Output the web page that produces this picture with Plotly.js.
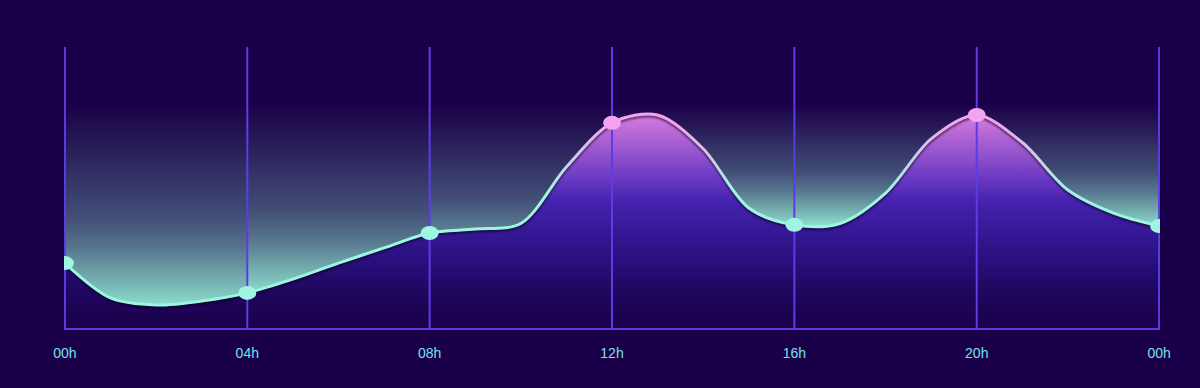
<!DOCTYPE html>
<html>
<head>
<meta charset="utf-8">
<script src="https://cdn.plot.ly/plotly-3.0.1.min.js"></script>
<style>
  html, body { margin: 0; padding: 0; background: #1a0048; }
  #chart { width: 1200px; height: 388px; }
</style>
</head>
<body>
<div id="chart"></div>
<script>
// ---- data ----
const hours = [0, 1, 2, 3, 4, 5, 6, 7, 8, 9, 10, 11, 12, 13, 14, 15, 16, 17, 18, 19, 20, 21, 22, 23, 24];
const values = [23.1, 10.7, 8.2, 9.6, 12.5, 17.4, 23.1, 28.5, 33.8, 35.2, 37.2, 57.3, 73.0, 75.8, 63.8, 42.7, 36.7, 37.2, 48.0, 67.3, 75.8, 66.0, 49.1, 40.9, 36.3];
const tickVals = [0, 4, 8, 12, 16, 20, 24];
const tickText = ['00h', '04h', '08h', '12h', '16h', '20h', '00h'];
const markerHours = [0, 4, 8, 12, 16, 20, 24];
const yMax = 100;

// ---- styling ----
const BG = '#1a0048';
const GRID = '#5b3de6';
const CYAN = [158, 245, 225];
const PINK = [245, 163, 239];
const LOW_COLOR_AT = 48, HIGH_COLOR_AT = 73;
const SMOOTH = 0.9;
const GLOW_TOP = 80;
const glowFloor = [8.2, 12.5, 20, 36.7, 36.7, 36.3]; // where each glow band is brightest (style)

function colorFor(v) {
  let t = (v - LOW_COLOR_AT) / (HIGH_COLOR_AT - LOW_COLOR_AT);
  t = Math.max(0, Math.min(1, t));
  const c = CYAN.map((a, i) => Math.round(a + (PINK[i] - a) * t));
  return 'rgb(' + c.join(',') + ')';
}

const glowScale = [
  [0, 'rgba(150,240,215,0.92)'],
  [0.074, 'rgba(150,240,215,0.8)'],
  [0.275, 'rgba(150,240,215,0.5)'],
  [0.44, 'rgba(150,240,215,0.32)'],
  [0.62, 'rgba(150,240,215,0.22)'],
  [0.76, 'rgba(150,240,215,0.13)'],
  [0.91, 'rgba(150,240,215,0.05)'],
  [1, 'rgba(150,240,215,0)']
];

// teal glow bands between neighbouring markers; the area under the line covers them
const glowTraces = markerHours.slice(0, -1).map((h0, i) => ({
  x: [h0, markerHours[i + 1]], y: [yMax, yMax], type: 'scatter', mode: 'lines',
  line: { width: 0 }, fill: 'tozeroy',
  fillgradient: { type: 'vertical', start: glowFloor[i], stop: GLOW_TOP, colorscale: glowScale },
  hoverinfo: 'skip', showlegend: false
}));

const underFill = {
  x: hours, y: values, type: 'scatter', mode: 'lines',
  line: { width: 0, shape: 'spline', smoothing: SMOOTH },
  fill: 'tozeroy',
  fillgradient: {
    type: 'vertical', start: 0, stop: 78,
    colorscale: [
      [0, 'rgb(26,0,72)'],
      [0.17, 'rgb(31,7,96)'],
      [0.36, 'rgb(45,19,135)'],
      [0.58, 'rgb(69,34,176)'],
      [0.68, 'rgb(105,57,195)'],
      [0.9, 'rgb(187,106,214)'],
      [1, 'rgb(226,133,233)']
    ]
  },
  hoverinfo: 'skip', showlegend: false
};

const mainLine = {
  x: hours, y: values, type: 'scatter', mode: 'lines',
  line: { width: 3, shape: 'spline', smoothing: SMOOTH, color: 'rgb(158,245,225)' },
  hoverinfo: 'x+y', showlegend: false
};

const gridShapes = tickVals.map(h => ({
  type: 'line', xref: 'x', yref: 'paper', x0: h, x1: h, y0: 0, y1: 1,
  line: { color: GRID, width: 2 }, layer: 'above'
}));

const markerShapes = markerHours.map(h => {
  const v = values[hours.indexOf(h)];
  return {
    type: 'circle', xref: 'x', yref: 'y',
    xsizemode: 'pixel', ysizemode: 'pixel',
    xanchor: h, yanchor: v,
    x0: -9, x1: 9, y0: -7, y1: 7,
    fillcolor: colorFor(v), line: { width: 0 }, layer: 'above'
  };
});

const layout = {
  width: 1200, height: 388,
  margin: { l: 64, r: 40, t: 47, b: 60 },
  paper_bgcolor: BG, plot_bgcolor: BG,
  showlegend: false,
  xaxis: {
    range: [-0.02, 24.02], tickvals: tickVals, ticktext: tickText,
    showgrid: false,
    showline: true, linecolor: GRID, linewidth: 2,
    zeroline: false, ticks: '', ticklabelstandoff: 11,
    tickfont: { family: 'Liberation Sans, Arial, sans-serif', size: 14, color: '#72e3e6' },
    fixedrange: true
  },
  yaxis: {
    range: [0, yMax], showgrid: false, zeroline: false, showline: false,
    showticklabels: false, ticks: '', fixedrange: true
  },
  shapes: gridShapes.concat(markerShapes)
};

const gd = document.getElementById('chart');
Plotly.newPlot(gd, glowTraces.concat([underFill, mainLine]), layout, { displayModeBar: false, staticPlot: true }).then(() => {
  const ya = gd._fullLayout.yaxis;
  const svg = gd.querySelector('svg.main-svg');
  const NS = 'http://www.w3.org/2000/svg';
  let defs = svg.querySelector('defs');
  if (!defs) { defs = document.createElementNS(NS, 'defs'); svg.insertBefore(defs, svg.firstChild); }
  const grad = document.createElementNS(NS, 'linearGradient');
  grad.setAttribute('id', 'lineGrad');
  grad.setAttribute('gradientUnits', 'userSpaceOnUse');
  grad.setAttribute('x1', 0); grad.setAttribute('x2', 0);
  grad.setAttribute('y1', ya.l2p(LOW_COLOR_AT));
  grad.setAttribute('y2', ya.l2p(HIGH_COLOR_AT));
  [[0, 'rgb(' + CYAN.join(',') + ')'], [1, 'rgb(' + PINK.join(',') + ')']].forEach(([o, c]) => {
    const s = document.createElementNS(NS, 'stop');
    s.setAttribute('offset', o); s.setAttribute('stop-color', c);
    grad.appendChild(s);
  });
  defs.appendChild(grad);
  const traces = gd.querySelectorAll('.scatterlayer .trace');
  const lineTrace = traces[traces.length - 1];
  const line = lineTrace && lineTrace.querySelector('path.js-line');
  if (line) {
    line.style.stroke = 'url(#lineGrad)';
    line.style.filter = 'drop-shadow(0px 2px 1px rgba(5,0,20,0.6))';
  }
});
</script>
</body>
</html>
